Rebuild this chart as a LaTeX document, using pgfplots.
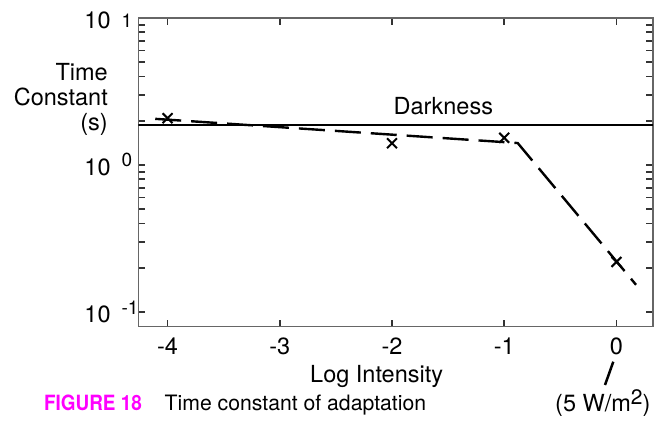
\documentclass[border=0pt]{standalone}
\usepackage{fontspec}
\setmainfont{TeX Gyre Heros}
\newfontfamily\capbold[FakeStretch=0.9]{TeX Gyre Heros}
\usepackage{pgfplots}
\pgfplotsset{compat=1.18}
\definecolor{figmag}{RGB}{255,0,255}
\newcommand{\tl}[2]{\makebox[54pt][l]{10\hspace{11pt}\raisebox{#2}{\fontsize{19}{19}\selectfont #1}}}
\newcommand{\lf}{\fontsize{23.5}{26}\selectfont}
\begin{document}
\begin{tikzpicture}
\path[use as bounding box] (0pt,0pt) rectangle (661pt,422pt);
\begin{axis}[
  at={(138.3pt,95.3pt)}, anchor=south west,
  scale only axis, width=514.7pt, height=308.7pt,
  ymode=log, xmin=-4.261, xmax=0.326, ymin=0.0794, ymax=10,
  xtick={-4,-3,-2,-1,0}, xticklabels={-4,-3,-2,-1,0},
  ytick={0.1,1,10},
  yticklabels={\tl{-1}{8pt},\tl{0}{9pt},\tl{1}{1pt}},
  minor ytick={0.2,0.3,0.4,0.5,0.6,0.7,0.8,0.9,2,3,4,5,6,7,8,9},
  tick align=inside, major tick length=7pt, minor tick length=7pt,
  xtick pos=both, ytick pos=both,
  tick style={draw=black!80, line width=1.6pt},
  minor tick style={draw=black!80, line width=1.6pt},
  axis line style={black!60, line width=1.2pt},
  ticklabel style={font=\lf, inner sep=0pt},
  xticklabel pos=lower, yticklabel pos=left,
  xticklabel style={anchor=base, yshift=-28pt},
  yticklabel style={anchor=base west, xshift=-54pt, yshift=-11pt},
]
\addplot[black, line width=2.2pt] coordinates {(-4.261,1.86) (0.326,1.86)};
\addplot[black, line width=2.4pt, dash pattern=on 26pt off 10pt] coordinates {(-4.11,2.06) (-0.88,1.41) (0.175,0.153)};
\addplot[black, only marks, mark=x, mark size=7pt, mark options={line width=2pt}] coordinates {(-4,2.08) (-2,1.406) (-1,1.53) (0,0.219)};
\end{axis}
\node[anchor=base west, inner sep=0pt, font=\lf] at (393.5pt,307.7pt) {Darkness};
\node[anchor=base east, inner sep=0pt, font=\lf] at (108pt,341pt) {Time};
\node[anchor=base east, inner sep=0pt, font=\lf] at (108pt,316pt) {Constant};
\node[anchor=base east, inner sep=0pt, font=\lf] at (108pt,291pt) {(s)};
\node[anchor=base west, inner sep=0pt, font=\lf] at (310pt,39pt) {Log Intensity};
\draw[black, line width=2.5pt] (613.3pt,60.3pt) -- (605pt,37pt);
\node[anchor=base west, inner sep=0pt, font=\lf] at (555pt,10pt) {(5 W/m\raisebox{7pt}{\fontsize{21}{21}\selectfont 2})};
\node[anchor=base east, inner sep=0pt, text=figmag] at (142pt,11pt) {\capbold\bfseries\fontsize{21}{21}\selectfont FIGURE 18};
\node[anchor=base west, inner sep=0pt] at (164.5pt,11pt) {\fontsize{21.2}{21}\selectfont Time constant of adaptation};
\end{tikzpicture}
\end{document}
